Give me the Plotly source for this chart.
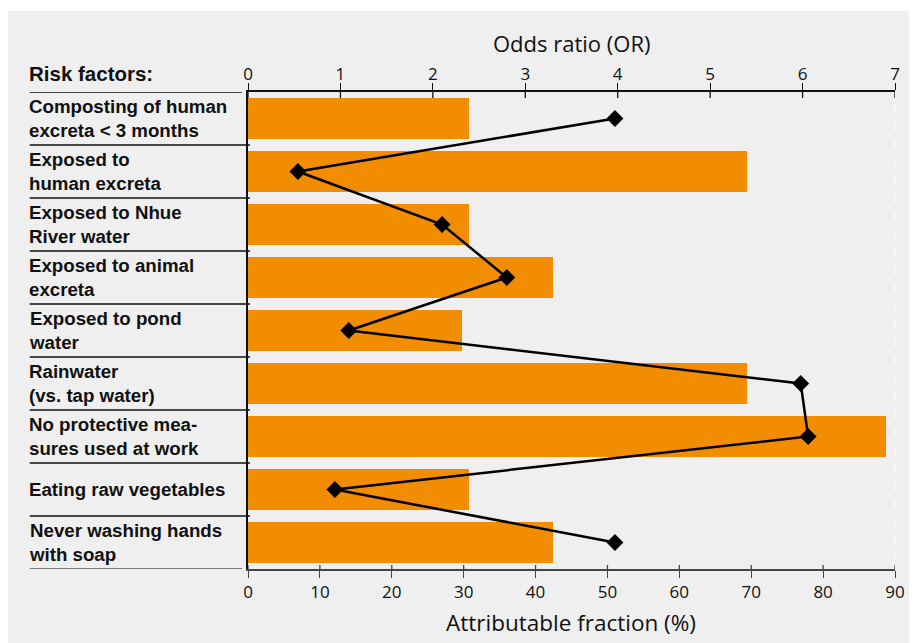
import plotly.graph_objects as go

categories = [
    "Composting of human<br>excreta < 3 months",
    "Exposed to<br>human excreta",
    "Exposed to Nhue<br>River water",
    "Exposed to animal<br>excreta",
    "Exposed to pond<br>water",
    "Rainwater<br>(vs. tap water)",
    "No protective mea-<br>sures used at work",
    "Eating raw vegetables",
    "Never washing hands<br>with soap",
]
attributable_fraction = [30.8, 69.4, 30.8, 42.4, 29.7, 69.4, 88.8, 30.8, 42.4]
odds_ratio = [3.97, 0.54, 2.10, 2.80, 1.09, 5.98, 6.06, 0.94, 3.97]
af_ticks = [0, 10, 20, 30, 40, 50, 60, 70, 80, 90]
or_ticks = [0, 1, 2, 3, 4, 5, 6, 7]

ORANGE = "#f28c00"
BG = "#efefef"
REG = "Open Sans"
BOLD = "Liberation Sans"

# the page places the figure 8 px from the window's top-left corner
OFF = 8
W, H = 917 - OFF, 643 - OFF
L, R, T, B = 248 - OFF, 20, 92 - OFF, 643 - 569
PW, PH = W - L - R, H - T - B


def px_to_paper_x(px):
    """px: x in window pixels"""
    return (px - OFF - L) / PW


def px_to_paper_y(py):
    """py: y in window pixels"""
    return (H - B - (py - OFF)) / PH


ypos = list(range(len(categories)))

fig = go.Figure()
fig.add_trace(go.Bar(
    y=ypos, x=attributable_fraction, orientation="h",
    marker=dict(color=ORANGE, line=dict(width=0)), width=0.77,
    xaxis="x", yaxis="y", showlegend=False,
))
fig.add_trace(go.Scatter(
    y=ypos, x=odds_ratio, mode="lines+markers",
    line=dict(color="black", width=2.5),
    marker=dict(symbol="diamond", size=13, color="black"),
    xaxis="x2", yaxis="y", showlegend=False,
))

shapes = []
# white top strip
shapes.append(dict(type="rect", xref="paper", yref="paper",
                   x0=px_to_paper_x(-5), x1=px_to_paper_x(930),
                   y0=px_to_paper_y(11), y1=px_to_paper_y(-5),
                   fillcolor="white", line=dict(width=0), layer="below"))
# white dashed line at right end
shapes.append(dict(type="line", xref="x", yref="paper", x0=af_ticks[-1], x1=af_ticks[-1],
                   y0=px_to_paper_y(563), y1=px_to_paper_y(97),
                   line=dict(color="white", width=2, dash="dash"), layer="below"))
# row separators in label area
lab_x0 = px_to_paper_x(29)
txt_x0 = px_to_paper_x(26)
for k in range(len(categories) + 1):
    yv = k - 0.5
    x1 = px_to_paper_x(242) if k in (0, len(categories)) else px_to_paper_x(250)
    col = "#111" if k < len(categories) else "#555"
    shapes.append(dict(type="line", xref="paper", yref="y", x0=lab_x0, x1=x1,
                       y0=yv, y1=yv, line=dict(color=col, width=1.5)))
# inner halves of crossing ticks
for t in or_ticks:
    shapes.append(dict(type="line", xref="x2", yref="paper", ysizemode="pixel", yanchor=1,
                       x0=t, x1=t, y0=0, y1=-6, line=dict(color="#111", width=1.3)))
for t in af_ticks:
    shapes.append(dict(type="line", xref="x", yref="paper", ysizemode="pixel", yanchor=0,
                       x0=t, x1=t, y0=0, y1=4, line=dict(color="#444", width=1.3)))

annotations = []
for i, c in enumerate(categories):
    annotations.append(dict(text="<b>%s</b>" % c, xref="paper", yref="y", x=txt_x0, y=i,
                            xanchor="left", yanchor="middle", align="left", showarrow=False,
                            font=dict(family=BOLD, size=18.7, color="#111")))
annotations.append(dict(text="<b>Risk factors:</b>", xref="paper", yref="paper", x=txt_x0,
                        y=px_to_paper_y(73), xanchor="left", yanchor="middle", showarrow=False,
                        font=dict(family=BOLD, size=20.5, color="#111")))
annotations.append(dict(text="Odds ratio (OR)", xref="paper", yref="paper", x=px_to_paper_x(572),
                        y=px_to_paper_y(43), xanchor="center", yanchor="middle", showarrow=False,
                        font=dict(family=REG, size=22, color="#111")))
annotations.append(dict(text="Attributable fraction (%)", xref="paper", yref="paper", x=px_to_paper_x(572),
                        y=px_to_paper_y(622), xanchor="center", yanchor="middle", showarrow=False,
                        font=dict(family=REG, size=22.5, color="#111")))

fig.update_layout(
    width=W, height=H,
    margin=dict(l=L, r=R, t=T, b=B, pad=0),
    paper_bgcolor=BG, plot_bgcolor=BG,
    bargap=0,
    xaxis=dict(range=[0, 90], tickvals=af_ticks, showgrid=False, zeroline=False,
               showline=True, linecolor="#444", linewidth=1.5, ticks="outside", ticklen=7,
               tickcolor="#444", tickwidth=1.3, ticklabelstandoff=0,
               tickfont=dict(family=REG, size=17, color="#111"), fixedrange=True),
    xaxis2=dict(range=[0, 7], tickvals=or_ticks, overlaying="x", side="top", anchor="y",
                showgrid=False, zeroline=False, showline=True, linecolor="#111", linewidth=1.5,
                ticks="outside", ticklen=7, tickcolor="#111", tickwidth=1.3, ticklabelstandoff=-4,
                tickfont=dict(family=REG, size=17, color="#111"), fixedrange=True),
    yaxis=dict(range=[len(categories) - 0.5, -0.5], showticklabels=False, showgrid=False,
               zeroline=False, showline=True, linecolor="#111", linewidth=1.5, ticks=""),
    shapes=shapes,
    annotations=annotations,
)

fig.write_html("out.html")
